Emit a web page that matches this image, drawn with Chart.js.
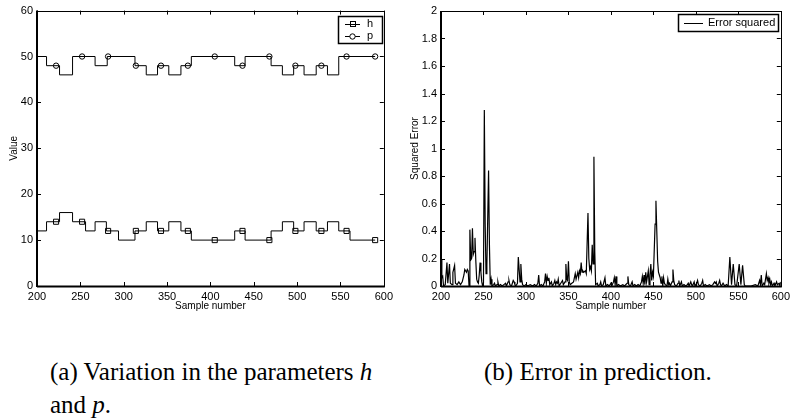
<!DOCTYPE html>
<html>
<head>
<title>Parameters and prediction error</title>
<script src="https://cdn.jsdelivr.net/npm/chart.js"></script>
<style>
    body { margin: 0; background: #fff; width: 794px; height: 418px; position: relative; overflow: hidden; }
    canvas { position: absolute; top: 0; }
    #chartA { left: 0; }
    #chartB { left: 397px; }
    .cap { position: absolute; font-family: "Liberation Serif", "Times New Roman", serif; font-size: 25px; line-height: 33px; color: #000; white-space: nowrap; }
    #capA { left: 50px; top: 355px; }
    #capB { left: 484px; top: 355px; }
</style>
</head>
<body>
<canvas id="chartA" width="397" height="320"></canvas>
<canvas id="chartB" width="397" height="320"></canvas>
<div class="cap" id="capA">(a) Variation in the parameters <i>h</i><br>and <i>p</i>.</div>
<div class="cap" id="capB">(b) Error in prediction.</div>

<script>
// ---- left panel: step changes of p and h (sample where each level starts)
var pX = [200, 211, 226, 241, 267, 281, 313, 326, 339, 352, 366, 378, 428, 440, 470, 483, 496, 508, 522, 535, 548, 590];
var pY = [50, 48, 46, 50, 48, 50, 48, 46, 48, 46, 48, 50, 48, 50, 48, 46, 48, 46, 48, 46, 50, 50];
var hX = [200, 211, 226, 241, 256, 267, 280, 294, 313, 326, 339, 352, 366, 378, 428, 440, 470, 483, 496, 508, 522, 535, 548, 561, 590];
var hY = [12, 14, 16, 14, 12, 14, 12, 10, 12, 14, 12, 14, 12, 10, 12, 10, 12, 14, 12, 14, 12, 14, 12, 10, 10];

// marker positions on each line
var markX = [222, 252, 282, 314, 343, 374, 405, 437, 468, 498, 528, 557, 590];
var pMarkY = [48, 50, 50, 48, 48, 48, 50, 48, 50, 48, 48, 50, 50];
var hMarkY = [14, 14, 12, 12, 12, 12, 10, 12, 10, 12, 12, 12, 10];

// ---- right panel: squared error
var errX = [200, 201, 202, 203, 205, 207, 208, 210, 211, 213, 214, 216, 217, 219, 221, 223, 225, 227, 228, 230,
    231, 232, 233, 234, 235, 236, 237, 238, 239, 240, 241, 242, 243, 244, 245, 246, 247, 248, 249, 250,
    251, 252, 253, 254, 256, 257, 258, 259, 260, 262, 263, 264, 266, 267, 268, 270, 272, 274, 276, 277,
    279, 280, 281, 283, 285, 286, 287, 288, 290, 291, 292, 293, 294, 295, 296, 298, 300, 302, 305, 308,
    310, 312, 314, 315, 316, 318, 320, 322, 323, 324, 325, 326, 327, 328, 330, 331, 333, 334, 335, 336,
    337, 338, 339, 341, 343, 344, 346, 347, 348, 349, 350, 351, 352, 354, 356, 358, 359, 361, 362, 363,
    364, 365, 366, 367, 368, 370, 371, 373, 374, 375, 376, 377, 378, 379, 380, 381, 382, 384, 385, 387,
    388, 389, 391, 393, 394, 396, 398, 400, 401, 403, 404, 405, 406, 407, 409, 411, 414, 416, 419, 420,
    421, 423, 425, 426, 428, 430, 432, 434, 436, 437, 438, 439, 440, 441, 442, 444, 445, 446, 447, 448,
    449, 450, 452, 453, 454, 455, 456, 457, 458, 459, 460, 461, 462, 463, 464, 466, 467, 468, 469, 470,
    472, 473, 474, 475, 477, 479, 480, 481, 483, 484, 486, 488, 490, 491, 492, 494, 495, 496, 498, 499,
    501, 502, 503, 505, 507, 508, 509, 511, 513, 516, 518, 520, 522, 523, 524, 525, 527, 528, 529, 530,
    532, 534, 536, 538, 540, 542, 544, 546, 548, 551, 553, 555, 557, 558, 560, 565, 570, 573, 575, 576,
    577, 578, 580, 581, 583, 584, 585, 586, 587, 588, 589, 590, 592, 593, 595, 596, 598, 599, 600];
var errY = [0.19, 0.06, 0.07, 0.00, 0.01, 0.17, 0.02, 0.16, 0.02, 0.01, 0.10, 0.15, 0.02, 0.01, 0.03, 0.01, 0.03, 0.08, 0.12, 0.10,
    0.12, 0.11, 0.00, 0.41, 0.19, 0.20, 0.42, 0.23, 0.25, 0.35, 0.18, 0.05, 0.03, 0.02, 0.08, 0.17, 0.10, 0.03, 0.00, 0.02,
    1.28, 0.45, 0.09, 0.15, 0.84, 0.30, 0.01, 0.05, 0.00, 0.01, 0.02, 0.00, 0.01, 0.03, 0.00, 0.01, 0.00, 0.01, 0.02, 0.00,
    0.03, 0.04, 0.01, 0.00, 0.04, 0.03, 0.01, 0.00, 0.02, 0.21, 0.12, 0.03, 0.16, 0.05, 0.01, 0.00, 0.01, 0.00, 0.01, 0.00,
    0.01, 0.00, 0.02, 0.08, 0.00, 0.01, 0.00, 0.03, 0.09, 0.02, 0.07, 0.04, 0.06, 0.01, 0.03, 0.00, 0.02, 0.04, 0.01, 0.03,
    0.02, 0.05, 0.00, 0.02, 0.04, 0.01, 0.03, 0.16, 0.05, 0.04, 0.18, 0.03, 0.01, 0.02, 0.03, 0.09, 0.05, 0.10, 0.06, 0.11,
    0.09, 0.17, 0.10, 0.11, 0.10, 0.11, 0.09, 0.53, 0.20, 0.12, 0.14, 0.11, 0.30, 0.16, 0.94, 0.25, 0.01, 0.02, 0.00, 0.01,
    0.03, 0.00, 0.01, 0.06, 0.00, 0.01, 0.00, 0.02, 0.00, 0.03, 0.06, 0.01, 0.07, 0.00, 0.01, 0.00, 0.01, 0.00, 0.02, 0.07,
    0.01, 0.00, 0.03, 0.00, 0.01, 0.00, 0.01, 0.00, 0.03, 0.07, 0.02, 0.08, 0.01, 0.10, 0.03, 0.11, 0.01, 0.08, 0.16, 0.04,
    0.10, 0.07, 0.45, 0.62, 0.40, 0.18, 0.10, 0.08, 0.06, 0.02, 0.07, 0.00, 0.06, 0.02, 0.01, 0.00, 0.05, 0.01, 0.02, 0.00,
    0.03, 0.12, 0.04, 0.01, 0.00, 0.02, 0.04, 0.00, 0.03, 0.00, 0.01, 0.00, 0.01, 0.02, 0.00, 0.03, 0.01, 0.00, 0.03, 0.00,
    0.02, 0.04, 0.01, 0.00, 0.02, 0.04, 0.00, 0.01, 0.00, 0.01, 0.00, 0.01, 0.03, 0.02, 0.03, 0.00, 0.02, 0.04, 0.01, 0.00,
    0.02, 0.00, 0.01, 0.00, 0.21, 0.01, 0.16, 0.01, 0.00, 0.16, 0.01, 0.15, 0.01, 0.00, 0.00, 0.00, 0.01, 0.00, 0.04, 0.01,
    0.08, 0.00, 0.02, 0.01, 0.09, 0.04, 0.06, 0.02, 0.05, 0.01, 0.03, 0.00, 0.02, 0.00, 0.03, 0.01, 0.02, 0.00, 0.03];

var seriesNames = ['h', 'p', 'Error squared'];

function pts(xs, ys) {
    return xs.map(function (x, i) { return { x: x, y: ys[i] }; });
}

var tickFont = { family: 'Liberation Sans, Arial, sans-serif', size: 11 };
var titleFont = { family: 'Liberation Sans, Arial, sans-serif', size: 10 };

// MATLAB-like box: frame, inward ticks on all four sides, legend inside the axes
var matlabFrame = {
    id: 'matlabFrame',
    afterDraw: function (chart, args, opts) {
        var ctx = chart.ctx, a = chart.chartArea, sx = chart.scales.x, sy = chart.scales.y;
        ctx.save();
        ctx.strokeStyle = '#000';
        ctx.lineWidth = 1;
        ctx.beginPath();
        sx.ticks.forEach(function (t) {
            var px = Math.round(sx.getPixelForValue(t.value)) + 0.5;
            ctx.moveTo(px, a.bottom); ctx.lineTo(px, a.bottom - 4);
            ctx.moveTo(px, a.top); ctx.lineTo(px, a.top + 4);
        });
        sy.ticks.forEach(function (t) {
            var py = Math.round(sy.getPixelForValue(t.value)) + 0.5;
            ctx.moveTo(a.left, py); ctx.lineTo(a.left + 4, py);
            ctx.moveTo(a.right, py); ctx.lineTo(a.right - 4, py);
        });
        ctx.stroke();
        ctx.strokeRect(Math.round(a.left) + 0.5, Math.round(a.top) + 0.5, Math.round(a.right - a.left), Math.round(a.bottom - a.top));
        ctx.lineWidth = 2;
        ctx.beginPath();
        ctx.moveTo(a.left, Math.round(a.bottom) + 0.5); ctx.lineTo(a.right + 1, Math.round(a.bottom) + 0.5);
        ctx.moveTo(Math.round(a.left), a.top); ctx.lineTo(Math.round(a.left), a.bottom + 1);
        ctx.stroke();

        // legend
        var L = opts.legend;
        if (!L) { ctx.restore(); return; }
        ctx.font = '11px "Liberation Sans", Arial, sans-serif';
        var tw = 0;
        L.items.forEach(function (it) { tw = Math.max(tw, ctx.measureText(it.text).width); });
        var w = L.padX + L.lineLen + L.gap + tw + L.padRight;
        var h = L.items.length * L.rowH + 2 * L.padY;
        var bx = Math.round(a.right - L.insetRight - w), by = Math.round(a.top + L.insetTop);
        ctx.fillStyle = '#fff';
        ctx.fillRect(bx, by, w, h);
        ctx.lineWidth = 1.5;
        ctx.strokeRect(bx + 0.5, by + 0.5, Math.round(w), h);
        ctx.lineWidth = 1;
        ctx.textBaseline = 'middle';
        ctx.fillStyle = '#000';
        L.items.forEach(function (it, i) {
            var cy = by + L.padY + L.rowH * (i + 0.5);
            var x0 = bx + L.padX, x1 = x0 + L.lineLen, cx = (x0 + x1) / 2;
            ctx.beginPath();
            ctx.moveTo(x0, Math.round(cy) + 0.5); ctx.lineTo(x1, Math.round(cy) + 0.5);
            ctx.stroke();
            if (it.marker === 'rect') {
                ctx.strokeRect(Math.round(cx - 2.5) + 0.5, Math.round(cy - 2.5) + 0.5, 5, 5);
            } else if (it.marker === 'circle') {
                ctx.beginPath();
                ctx.arc(cx, Math.round(cy) + 0.5, 2.7, 0, Math.PI * 2);
                ctx.fillStyle = '#fff';
                ctx.fill();
                ctx.stroke();
                ctx.fillStyle = '#000';
            }
            ctx.fillText(it.text, x1 + L.gap, cy + 0.5);
        });
        ctx.restore();
    }
};

function axes(yMin, yMax, yStep, yTitle, yWidth, yTitlePad, fmt) {
    return {
        x: {
            type: 'linear', min: 200, max: 600,
            grid: { display: false, drawTicks: false },
            border: { display: false },
            ticks: { stepSize: 50, padding: 4, color: '#000', font: tickFont, maxRotation: 0 },
            title: { display: true, text: 'Sample number', color: '#000', font: titleFont, padding: { top: 0, bottom: 8 } },
            afterFit: function (s) { s.height = 34; }
        },
        y: {
            type: 'linear', min: yMin, max: yMax,
            grid: { display: false, drawTicks: false },
            border: { display: false },
            ticks: { stepSize: yStep, padding: 4, color: '#000', font: tickFont, callback: fmt },
            title: { display: true, text: yTitle, color: '#000', font: titleFont, padding: { top: yTitlePad, bottom: 0 } },
            afterFit: function (s) { s.width = yWidth; }
        }
    };
}

new Chart(document.getElementById('chartA'), {
    type: 'scatter',
    data: {
        datasets: [
            { label: seriesNames[1], data: pts(pX, pY), showLine: true, stepped: true, borderColor: '#000', borderWidth: 1, pointRadius: 0 },
            { label: seriesNames[1] + ' markers', data: pts(markX, pMarkY), pointStyle: 'circle', pointRadius: 2.7, borderColor: '#000', backgroundColor: 'rgba(0,0,0,0)', pointBorderWidth: 1 },
            { label: seriesNames[0], data: pts(hX, hY), showLine: true, stepped: true, borderColor: '#000', borderWidth: 1, pointRadius: 0 },
            { label: seriesNames[0] + ' markers', data: pts(markX, hMarkY), pointStyle: 'rect', pointRadius: 3.6, borderColor: '#000', backgroundColor: 'rgba(0,0,0,0)', pointBorderWidth: 1 }
        ]
    },
    options: {
        responsive: false,
        animation: false,
        layout: { autoPadding: false, padding: { top: 7, right: 9, left: 0, bottom: 0 } },
        scales: axes(0, 60, 10, 'Value', 37, 8, function (v) { return v; }),
        plugins: {
            legend: { display: false },
            tooltip: { enabled: false },
            matlabFrame: {
                legend: {
                    insetRight: 2, insetTop: 5, padX: 7, lineLen: 15, gap: 7, padRight: 9, rowH: 12, padY: 1.5,
                    items: [{ text: seriesNames[0], marker: 'rect' }, { text: seriesNames[1], marker: 'circle' }]
                }
            }
        }
    },
    plugins: [matlabFrame]
});

new Chart(document.getElementById('chartB'), {
    type: 'scatter',
    data: {
        datasets: [
            { label: seriesNames[2], data: pts(errX, errY), showLine: true, borderColor: '#000', borderWidth: 1.2, pointRadius: 0, tension: 0 }
        ]
    },
    options: {
        responsive: false,
        animation: false,
        layout: { autoPadding: false, padding: { top: 11, right: 8, left: 0, bottom: 0 } },
        scales: axes(0, 2, 0.2, 'Squared Error', 44, 12, function (v) { return String(Math.round(v * 10) / 10); }),
        plugins: {
            legend: { display: false },
            tooltip: { enabled: false },
            matlabFrame: {
                legend: {
                    insetRight: 3, insetTop: 3, padX: 6, lineLen: 19, gap: 5, padRight: 3, rowH: 14, padY: 1.5,
                    items: [{ text: seriesNames[2], marker: null }]
                }
            }
        }
    },
    plugins: [matlabFrame]
});
</script>
</body>
</html>
